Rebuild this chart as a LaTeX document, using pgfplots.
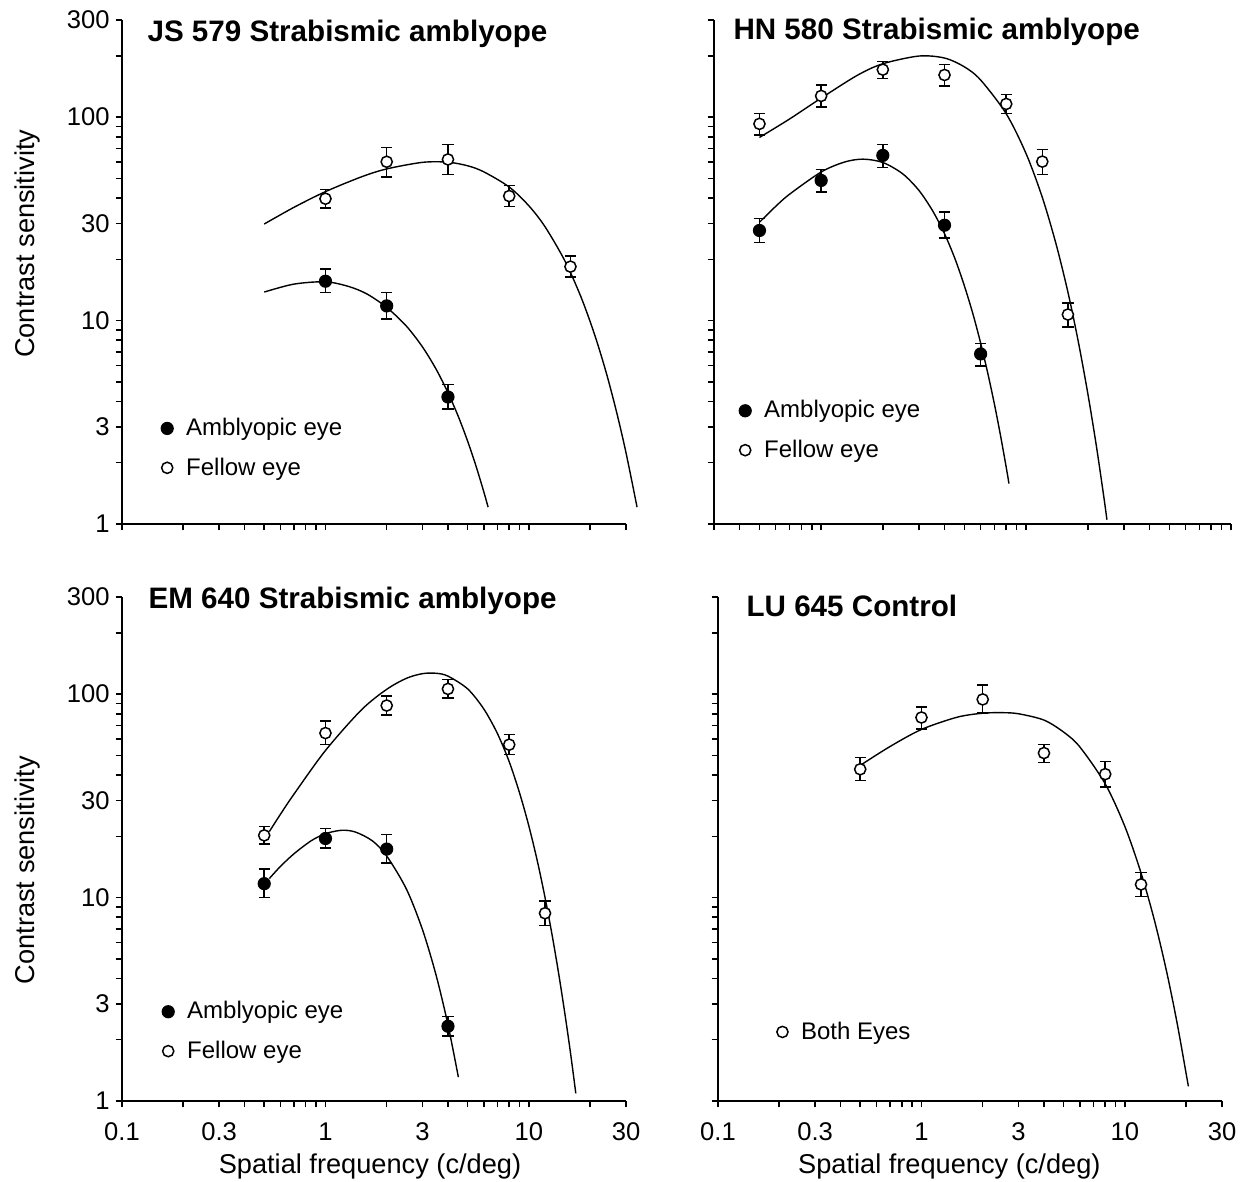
\documentclass[border=0pt]{standalone}
\usepackage{fontspec}
\setmainfont{Liberation Sans}
\usepackage{pgfplots}
\pgfplotsset{compat=1.18}
\usepackage{pgfplotstable}

% ---------------- data: f  S  ep  em ----------------
\pgfplotstableread{
f s ep em
1 39.7 4.3 4.0
2 60.3 10.4 9.5
4 61.9 11.6 9.8
8 40.9 5.3 4.6
16 18.4 2.4 2.0
}\JSfel
\pgfplotstableread{
f s ep em
1 15.6 2.3 1.9
2 11.8 1.9 1.6
4 4.21 0.63 0.53
}\JSamb
\pgfplotstableread{
f s ep em
0.5 92.6 11.4 10.8
1 127 17 15
2 171 17 16
4 161 20 19
8 116 13 12
12 60.4 8.8 8.1
16 10.7 1.5 1.43
}\HNfel
\pgfplotstableread{
f s ep em
0.5 27.7 4.1 3.5
1 48.8 6.4 5.9
2 64.8 8.5 8.3
4 29.4 4.7 3.9
6 6.85 0.85 0.87
}\HNamb
\pgfplotstableread{
f s ep em
0.5 20.2 2.2 1.9
1 64.3 9.6 7.9
2 87.8 10.2 9.0
4 106 12 10.2
8 56.4 7.0 5.8
12 8.37 1.25 1.08
}\EMfel
\pgfplotstableread{
f s ep em
0.5 11.7 2.1 1.7
1 19.5 2.4 2.0
2 17.3 3.1 2.5
4 2.33 0.27 0.24
}\EMamb
\pgfplotstableread{
f s ep em
0.5 42.7 6.0 5.2
1 76.7 9.6 9.4
2 94.1 16.9 13.3
4 51.3 5.3 5.3
8 40.4 6.2 5.4
12 11.6 1.7 1.5
}\LUboth

\tikzset{ttl/.style={anchor=west, inner sep=0pt, font=\bfseries\fontsize{14.8}{16}\selectfont}}

\pgfplotsset{
  csf/.style={
    scale only axis, anchor=south west,
    ymin=1, ymax=300,
    axis x line*=bottom, axis y line*=left,
    axis line style={line width=1pt},
    tick pos=left, tick align=outside,
    major tick length=3.2pt, minor tick length=3.2pt,
    every tick/.append style={black, line width=0.75pt},
    ytick={1,3,10,30,100,300},
    minor ytick={2,4,5,6,7,8,9,20,40,50,60,70,80,90,200},
    tick label style={font=\fontsize{12.8}{13}\selectfont},
    xticklabel style={yshift=-4pt},
    yticklabel style={xshift=0.5pt},
    label style={font=\fontsize{13.6}{14}\selectfont},
    clip=false,
    legend cell align=left,
    legend style={anchor=west, draw=none, fill=none, inner sep=0pt,
      row sep=5.5pt, column sep=4.5pt, font=\fontsize{12}{14}\selectfont},
  },
  fitline/.style={no marks, black, line width=0.7pt, smooth, forget plot},
  errb/.style={
    error bars/y dir=both, error bars/y explicit,
    error bars/error bar style={line width=0.75pt, black},
    error bars/error mark options={rotate=90, mark size=2.8pt, line width=0.75pt, black}},
  amb/.style={only marks, mark=*, mark size=3pt,
    mark options={fill=black, draw=black, line width=0.6pt}, errb},
  fel/.style={only marks, mark=*, mark size=2.8pt,
    mark options={fill=white, draw=black, line width=0.75pt}, errb},
}

\begin{document}
\begin{tikzpicture}
\path[use as bounding box] (0,0) rectangle (622pt,591pt);

% ---------------- top left ----------------
\begin{loglogaxis}[csf, at={(61pt,329pt)}, width=252pt, height=252pt,
  xmin=0.1, xmax=30,
  xtick={0.1,0.3,1,3,10,30},
  minor xtick={0.2,0.4,0.5,0.6,0.7,0.8,0.9,2,4,5,6,7,8,9,20},
  xticklabels={},
  yticklabels={1,3,10,30,100,300},
  ylabel={Contrast sensitivity},
  ylabel style={at={(axis description cs:-0.187,0.556)}, anchor=center},
  legend style={at={(0.077,0.1505)}}]
\addplot[fitline] coordinates {(0.5,29.8) (0.7,36.0) (1,43.0) (1.5,50.8) (2,55.6) (3,59.9) (4,60.0) (5,57.6) (6,53.8) (8,45.3) (10,36.6) (12,28.9) (15,19.7) (18,13.1) (21,8.56) (24,5.53) (27,3.53) (30,2.24) (34,1.21)};
\addplot[fitline] coordinates {(0.5,13.8) (0.7,15.1) (1,15.5) (1.3,14.7) (1.6,13.5) (2,11.6) (2.5,9.38) (3,7.41) (3.5,5.76) (4,4.42) (4.5,3.37) (5,2.55) (5.5,1.92) (6,1.44) (6.3,1.21)};
\addplot[amb] table[x=f, y=s, y error plus=ep, y error minus=em] {\JSamb};
\addlegendentry{Amblyopic eye}
\addplot[fel] table[x=f, y=s, y error plus=ep, y error minus=em] {\JSfel};
\addlegendentry{Fellow eye}
\node[ttl] at (rel axis cs:0.05,0.973) {JS 579 Strabismic amblyope};
\end{loglogaxis}

% ---------------- top right ----------------
\begin{loglogaxis}[csf, at={(357pt,329pt)}, width=258.5pt, height=252pt,
  xmin=0.3, xmax=100,
  xtick={1,10,100},
  minor xtick={0.3,0.4,0.5,0.6,0.7,0.8,0.9,2,3,4,5,6,7,8,9,20,30,40,50,60,70,80,90},
  xticklabels={}, yticklabels={},
  legend style={at={(0.048,0.1855)}}]
\addplot[fitline] coordinates {(0.5,79.4) (0.7,97.7) (1,123.9) (1.5,160.3) (2,182.8) (3,199.5) (4,195.0) (5,176.5) (6,152.1) (8,103.8) (10,66.1) (12,40.3) (14,23.8) (16,13.8) (18,7.83) (20,4.39) (22,2.44) (24,1.34) (24.8,1.05)};
\addplot[fitline] coordinates {(0.5,30.4) (0.6,36.4) (0.7,41.7) (1,53.7) (1.3,60.1) (1.6,62.1) (2,59.8) (2.5,52.6) (3,43.6) (3.5,34.6) (4,26.7) (4.5,20.1) (5,14.8) (5.5,10.8) (6,7.76) (6.5,5.52) (7,3.90) (7.5,2.73) (8,1.90) (8.25,1.58)};
\addplot[amb] table[x=f, y=s, y error plus=ep, y error minus=em] {\HNamb};
\addlegendentry{Amblyopic eye}
\addplot[fel] table[x=f, y=s, y error plus=ep, y error minus=em] {\HNfel};
\addlegendentry{Fellow eye}
\node[ttl] at (rel axis cs:0.037,0.977) {HN 580 Strabismic amblyope};
\end{loglogaxis}

% ---------------- bottom left ----------------
\begin{loglogaxis}[csf, at={(61pt,40.5pt)}, width=252pt, height=252pt,
  xmin=0.1, xmax=30,
  xtick={0.1,0.3,1,3,10,30},
  minor xtick={0.2,0.4,0.5,0.6,0.7,0.8,0.9,2,4,5,6,7,8,9,20},
  xticklabels={0.1,0.3,1,3,10,30},
  yticklabels={1,3,10,30,100,300},
  ylabel={Contrast sensitivity},
  ylabel style={at={(axis description cs:-0.187,0.458)}, anchor=center},
  xlabel={Spatial frequency (c/deg)},
  xlabel style={at={(axis description cs:0.492,-0.129)}, anchor=center},
  legend style={at={(0.079,0.138)}}]
\addplot[fitline] coordinates {(0.53,21.1) (0.6,25.6) (0.7,32.2) (1,52.8) (1.5,83.5) (2,105.5) (2.5,119.5) (3,126.0) (3.5,126.5) (4,122.5) (5,106.0) (6,84.5) (7,64.0) (8,46.5) (9,32.6) (10,22.4) (11,15.1) (12,10.0) (13,6.54) (14,4.23) (15,2.71) (16,1.73) (17,1.09)};
\addplot[fitline] coordinates {(0.53,12.4) (0.6,14.2) (0.7,16.4) (0.85,19.0) (1,20.6) (1.2,21.4) (1.4,21.0) (1.7,19.0) (2,16.0) (2.5,11.0) (3,6.94) (3.5,4.14) (4,2.37) (4.5,1.31)};
\addplot[amb] table[x=f, y=s, y error plus=ep, y error minus=em] {\EMamb};
\addlegendentry{Amblyopic eye}
\addplot[fel] table[x=f, y=s, y error plus=ep, y error minus=em] {\EMfel};
\addlegendentry{Fellow eye}
\node[ttl] at (rel axis cs:0.052,0.992) {EM 640 Strabismic amblyope};
\end{loglogaxis}

% ---------------- bottom right ----------------
\begin{loglogaxis}[csf, at={(359pt,40.5pt)}, width=252pt, height=252pt,
  xmin=0.1, xmax=30,
  xtick={0.1,0.3,1,3,10,30},
  minor xtick={0.2,0.4,0.5,0.6,0.7,0.8,0.9,2,4,5,6,7,8,9,20},
  xticklabels={0.1,0.3,1,3,10,30},
  yticklabels={},
  xlabel={Spatial frequency (c/deg)},
  xlabel style={at={(axis description cs:0.459,-0.129)}, anchor=center},
  legend style={at={(0.116,0.137)}}]
\addplot[fitline] coordinates {(0.5,44.6) (0.7,55.2) (1,67.0) (1.5,77.0) (2,80.5) (2.5,81.0) (3,80.0) (4,74.5) (5,65.0) (6,55.0) (8,36.2) (10,22.3) (12,13.2) (14,7.65) (16,4.36) (18,2.45) (20,1.36) (20.5,1.18)};
\addplot[fel] table[x=f, y=s, y error plus=ep, y error minus=em] {\LUboth};
\addlegendentry{Both Eyes}
\node[ttl] at (rel axis cs:0.056,0.982) {LU 645 Control};
\end{loglogaxis}
\end{tikzpicture}
\end{document}
